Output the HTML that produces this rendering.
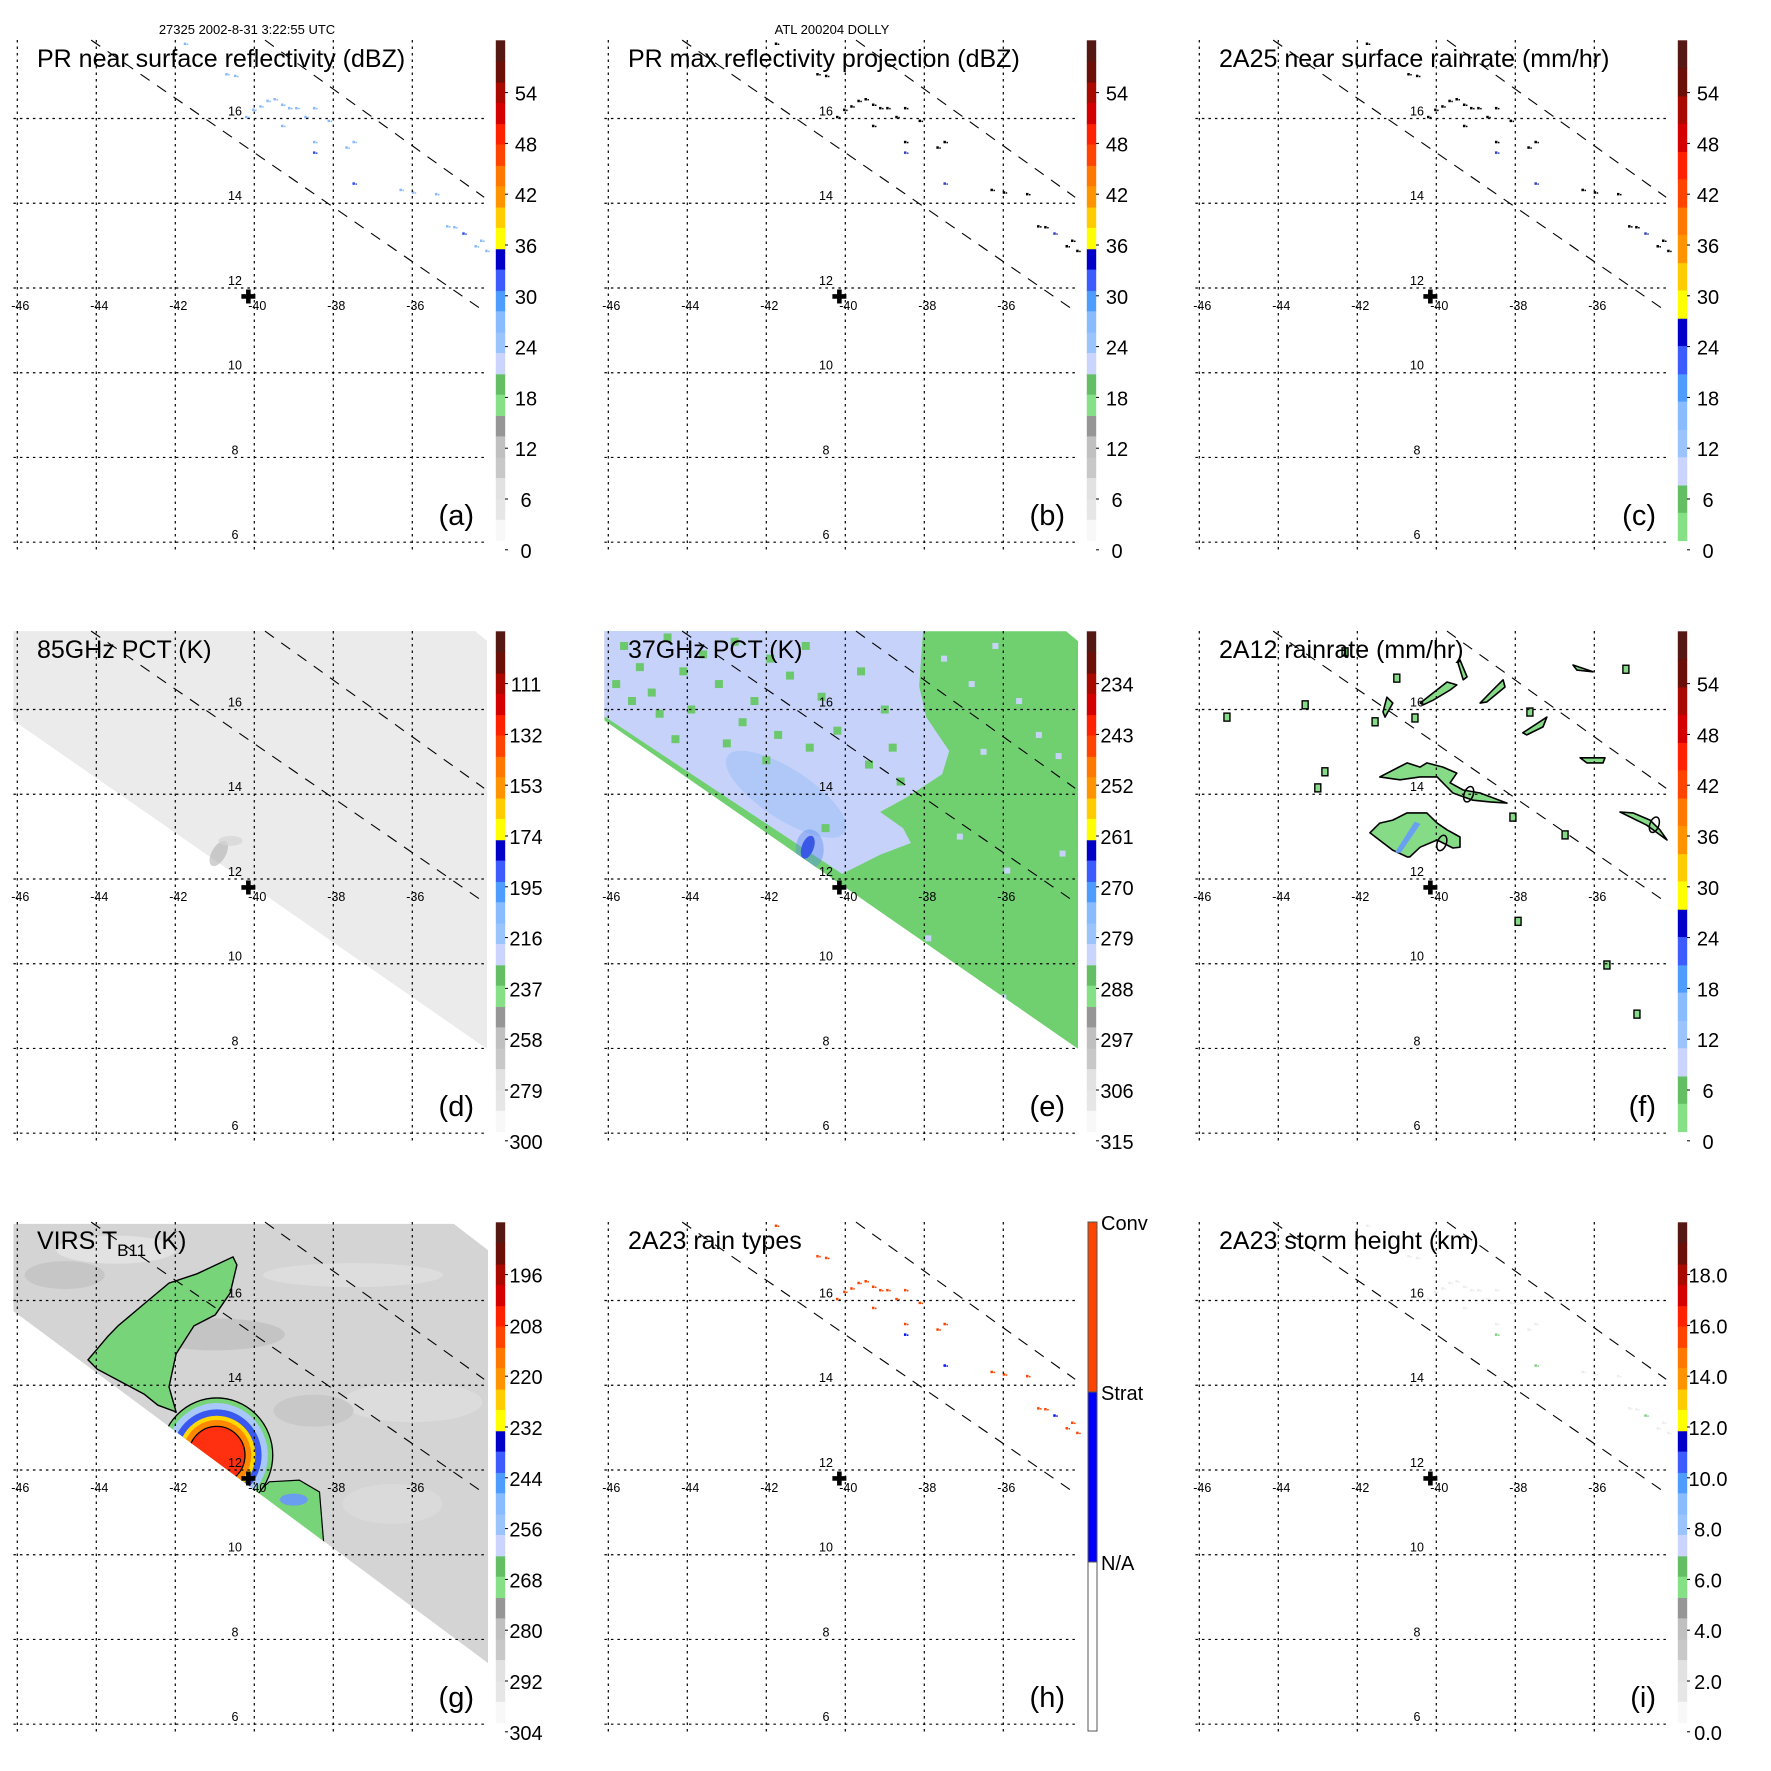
<!DOCTYPE html>
<html><head><meta charset="utf-8"><style>
html,body{margin:0;padding:0;background:#fff;}
svg{display:block;font-family:"Liberation Sans",Arial,sans-serif;}
</style></head><body>
<svg id="fig" width="1771" height="1771" viewBox="0 0 1771 1771" xmlns="http://www.w3.org/2000/svg">
<text x="247" y="34" font-size="13" text-anchor="middle">27325 2002-8-31 3:22:55 UTC</text>
<text x="832" y="34" font-size="13" text-anchor="middle">ATL 200204 DOLLY</text>
</svg>
<script>
// ---- data ----
const lonTicks = [-46,-44,-42,-40,-38,-36];
const latTicks = [16,14,12,10,8,6];
const panelTitles = ["PR near surface reflectivity (dBZ)","PR max reflectivity projection (dBZ)","2A25 near surface rainrate (mm/hr)","85GHz PCT (K)","37GHz PCT (K)","2A12 rainrate (mm/hr)","VIRS T","2A23 rain types","2A23 storm height (km)"];
const panelLetters = ["(a)","(b)","(c)","(d)","(e)","(f)","(g)","(h)","(i)"];
const cbLabelsA = ["54","48","42","36","30","24","18","12","6","0"];
const cbLabelsD = ["111","132","153","174","195","216","237","258","279","300"];
const cbLabelsE = ["234","243","252","261","270","279","288","297","306","315"];
const cbLabelsG = ["196","208","220","232","244","256","268","280","292","304"];
const cbLabelsI = ["18.0","16.0","14.0","12.0","10.0","8.0","6.0","4.0","2.0","0.0"];
const typeLabels = ["Conv","Strat","N/A"];
// PR rain pixels: lon, lat, type (1 conv, 2 strat)
const rainLon = [-40.21,-40.03,-39.85,-39.67,-39.49,-39.30,-39.12,-38.94,-38.71,-38.49,-38.12,-39.30,-38.49,-38.49,-37.67,-37.49,-37.49,-36.30,-35.99,-35.40,-35.12,-34.94,-34.71,-34.26,-34.40,-34.13,-40.49,-40.71,-41.76];
const rainLat = [16.04,16.21,16.29,16.42,16.46,16.33,16.25,16.25,16.04,16.25,15.95,15.83,15.45,15.20,15.32,15.45,14.47,14.32,14.26,14.22,13.46,13.44,13.29,13.12,12.99,12.88,17.01,17.05,17.77];
const rainType = [1,1,1,1,1,1,1,1,1,1,1,1,1,2,1,1,2,1,1,1,1,1,2,1,1,1,1,1,1];
// swath geometry
const swathDLon = [-46.10,-34.41,-34.11,-34.11,-46.10];
const swathDLat = [17.85,17.85,17.62,7.99,15.74];
const swathGLon = [-46.10,-34.95,-34.08,-34.08,-46.10];
const swathGLat = [17.81,17.81,17.19,7.44,15.75];
const swathLineLon = [[-44.13,-34.13],[-39.73,-34.18]];
const swathLineLat = [[17.85,11.42],[17.85,14.14]];
const centerLon = -40.15, centerLat = 11.8;
// 2A12 rain polygons (lon/lat)
const rainPolysLon = [
 [-41.68,-41.43,-41.10,-40.74,-40.24,-39.98,-39.73,-39.40,-39.40,-39.58,-39.98,-40.41,-40.67,-40.74,-41.10],
 [-41.43,-40.74,-40.41,-40.24,-39.83,-39.48,-39.65,-39.32,-38.89,-38.21,-38.64,-39.07,-39.58,-39.98,-40.41,-40.92],
 [-35.35,-35.02,-34.59,-34.34,-34.16,-34.67],
 [-40.41,-39.73,-39.48,-39.65,-40.08,-40.33],
 [-37.81,-37.20,-37.30,-37.71],
 [-38.89,-38.57,-38.31,-38.26,-38.72],
 [-39.40,-39.22,-39.32,-39.45],
 [-36.36,-35.73,-35.78,-36.19],
 [-36.54,-36.03,-36.44],
 [-41.25,-41.10,-41.30,-41.35]];
const rainPolysLat = [
 [13.09,13.32,13.39,13.56,13.56,13.32,13.16,12.99,12.75,12.73,12.92,12.75,12.52,12.52,12.68],
 [14.41,14.74,14.64,14.74,14.64,14.50,14.27,14.10,14.03,13.79,13.82,13.86,14.03,14.41,14.41,14.34],
 [13.58,13.56,13.39,13.16,12.92,13.27],
 [16.15,16.65,16.58,16.46,16.22,16.11],
 [15.45,15.82,15.59,15.40],
 [16.15,16.46,16.70,16.53,16.18],
 [17.17,16.77,16.70,17.10],
 [14.86,14.86,14.74,14.74],
 [17.05,16.89,16.93],
 [16.29,16.15,15.82,15.94]];
const smallRainLon = [-37.93,-35.68,-34.92,-38.06,-36.74,-45.30,-43.32,-42.82,-43.0,-41.0,-41.55,-40.54,-37.63,-42.31,-35.2];
const smallRainLat = [11.00,9.97,8.81,13.46,13.04,15.82,16.11,14.53,14.15,16.74,15.71,15.80,15.94,17.36,16.95];
// 37GHz green boundary (lon/lat)
const pct37Lon = [-38.03,-38.13,-37.95,-37.37,-37.55,-38.44,-39.12,-38.54,-38.34,-39.12,-40.08,-46.2,-46.2];
const pct37Lat = [17.87,16.55,15.82,15.02,14.47,13.93,13.58,13.20,12.85,12.57,12.12,15.9,17.87];
const specLon = [-45.6,-45.2,-44.9,-44.5,-44.1,-43.6,-43.2,-42.8,-42.3,-41.9,-41.4,-41.0,-40.6,-45.4,-44.7,-43.9,-42.6,-41.7,-40.9,-40.2,-39.6,-39.0,-38.8,-39.4,-38.6,-43.0,-44.3,-45.8,-42.0,-40.5];
const specLat = [17.5,17.0,16.4,17.7,16.9,17.3,16.6,17.6,16.2,17.2,16.8,17.5,16.3,16.2,15.9,16.0,15.7,15.4,15.1,15.5,16.9,16.0,15.1,14.7,14.3,15.2,15.3,16.6,14.8,13.2];
const lavLon = [-37.5,-36.8,-36.2,-35.6,-35.1,-34.6,-36.5,-37.1,-35.9,-34.5,-37.9,-36.0];
const lavLat = [17.2,16.6,17.5,16.2,15.4,14.9,15.0,13.0,12.2,12.6,10.6,9.2];
// VIRS cold cloud (lon/lat)
const virsGreenLon = [-44.21,-43.70,-43.45,-42.79,-42.16,-41.45,-40.54,-40.44,-40.61,-40.99,-41.53,-41.98,-42.16,-41.98,-42.44,-42.79,-43.98];
const virsGreenLat = [14.60,15.16,15.40,15.92,16.41,16.63,17.03,16.84,16.18,15.66,15.40,14.74,13.96,13.37,13.53,13.79,14.38];
const virsBandLon = [-40.13,-39.62,-38.86,-38.35,-38.22,-40.6];
const virsBandLat = [11.29,11.72,11.76,11.48,10.02,11.0];
const coreTemps = [270,262,250,238,228,216];
const coreRadii = [1.35,1.23,1.08,0.93,0.83,0.68];
const coreLon = -40.95, coreLat = 12.35;

// ---- palettes ----
const pal12 = [["#f8f8f8","#e6e6e6"],["#e2e2e2","#c8c8c8"],["#c0c0c0","#969696"],["#86e086","#64bf64"],["#cad4fc","#9cc4fc"],["#88bcff","#4e9cff"],["#3c5cff","#0000c8"],["#ffff00","#ffcc00"],["#ff9400","#ff7800"],["#ff4400","#ff2200"],["#d40000","#a80a00"],["#6a1008","#561812"]];
const pal9 = pal12.slice(3);
const NS="http://www.w3.org/2000/svg";
const svg=document.getElementById('fig');
const X=lon=>17.3+(lon+46)*39.5;
const Y=lat=>118.5+(16-lat)*42.37;
function el(tag,attrs,parent){const e=document.createElementNS(NS,tag);for(const k in attrs)e.setAttribute(k,attrs[k]);(parent||svg).appendChild(e);return e;}
function pts(lons,lats){return lons.map((l,i)=>X(l).toFixed(1)+","+Y(lats[i]).toFixed(1)).join(" ");}

function colorbar(g,pal,labels){
  const cb=el('g',{},g);
  
  
  const top=40.3,bot=540.6,h=(bot-top)/pal.length;
  pal.forEach((c,i)=>{
    const y0=bot-(i+1)*h;
    el('rect',{x:495.8,y:y0,width:9.4,height:h/2+0.5,fill:c[1]},cb);
    el('rect',{x:495.8,y:y0+h/2,width:9.4,height:h/2+0.5,fill:c[0]},cb);
  });
  labels.forEach((t,i)=>{
    const y=93.6+i*50.8;
    el('line',{x1:505,x2:508,y1:y-1,y2:y-1,stroke:'#000','stroke-width':1},cb);
    const tx=el('text',{x:526,y:y+7,'font-size':20,'text-anchor':'middle'},cb);
    tx.textContent=t;
    
    
  });
}

function grid(g){
  const gg=el('g',{stroke:'#000','stroke-width':1.2,'stroke-dasharray':'2.5,4'},g);
  
  
  lonTicks.forEach(l=>el('line',{x1:X(l),x2:X(l),y1:40,y2:551},gg));
  latTicks.forEach(l=>el('line',{x1:13.4,x2:487,y1:Y(l),y2:Y(l)},gg));
  lonTicks.forEach(l=>{const t=el('text',{x:X(l)+3,y:Y(12)+22,'font-size':12.5,'text-anchor':'middle'},g);t.textContent=String(l);
    });
  latTicks.forEach(l=>{const t=el('text',{x:235,y:Y(l)-3,'font-size':12.5,'text-anchor':'middle'},g);t.textContent=String(l);
    });
  const sl=el('g',{stroke:'#000','stroke-width':1.1,'stroke-dasharray':'11,9'},g);
  
  
  swathLineLon.forEach((ln,i)=>el('line',{x1:X(ln[0]),y1:Y(swathLineLat[i][0]),x2:X(ln[1]),y2:Y(swathLineLat[i][1])},sl));
  const cx=X(centerLon),cy=Y(centerLat);
  const c=el('path',{d:`M${cx-7},${cy-2.3}h14v4.6h-14z M${cx-2.3},${cy-7}h4.6v14h-4.6z`,fill:'#000'},g);
  
  
}

function titles(g,i){
  const t=el('text',{x:37,y:67,'font-size':25},g);
  
  
  if(i===6){t.textContent="VIRS T";const s=el('tspan',{'font-size':17,dy:7},t);s.textContent="B11";const s2=el('tspan',{dy:-7},t);s2.textContent=" (K)";}
  else t.textContent=panelTitles[i];
  const l=el('text',{x:474,y:525,'font-size':29,'text-anchor':'end'},g);
  l.textContent=panelLetters[i];
  
  
}

function rainSpecks(g,colorFn){
  rainLon.forEach((l,i)=>{
    const x=X(l),y=Y(rainLat[i]);
    const r=el('rect',{x:x-1,y:y-1,width:2.5,height:2.5,fill:colorFn(i)},g);
    
    
    el('rect',{x:x+2,y:y,width:1.5,height:1.5,fill:colorFn(i)},g);
  });
}

for(let p=0;p<9;p++){
  const col=p%3,row=Math.floor(p/3);
  const g=el('g',{transform:`translate(${col*591},${row*591})`});
  
  
  const data=el('g',{},g);
  
  
  if(p===0) rainSpecks(data,i=>rainType[i]===2?'#2d50f0':'#86b8ff');
  if(p===1||p===2) rainSpecks(data,i=>rainType[i]===2?'#3040c0':'#000');
  if(p===8) rainSpecks(data,i=>rainType[i]===2?'#80d080':'#ececec');
  if(p===7) rainSpecks(data,i=>rainType[i]===2?'#0010ff':'#ff4400');
  if(p===3){
    const s=el('polygon',{points:pts(swathDLon,swathDLat),fill:'#ebebeb'},data);
    
    
    el('ellipse',{cx:X(-40.9),cy:Y(12.6),rx:7,ry:14,fill:'#b0b0b0',opacity:0.6,transform:`rotate(30 ${X(-40.9)} ${Y(12.6)})`},data);
    el('ellipse',{cx:X(-40.6),cy:Y(12.9),rx:12,ry:5,fill:'#d4d4d4',opacity:0.7},data);
  }
  if(p===4){
    const d=el('defs',{},g);const cp=el('clipPath',{id:'ce'},d);
    el('polygon',{points:pts(swathDLon,swathDLat)},cp);
    const cg=el('g',{'clip-path':'url(#ce)'},data);
    const s=el('polygon',{points:pts(swathDLon,swathDLat),fill:'#70d070'},cg);
    
    
    const b=el('polygon',{points:pts(pct37Lon,pct37Lat),fill:'#c6d2fa'},cg);
    
    
    el('ellipse',{cx:X(-41.5),cy:Y(14.0),rx:70,ry:25,fill:'#a9c6f6',opacity:0.8,transform:`rotate(33 ${X(-41.5)} ${Y(14.0)})`},cg);
    el('ellipse',{cx:X(-40.9),cy:Y(12.7),rx:14,ry:20,fill:'#5a86f0',opacity:0.4},cg);
    el('ellipse',{cx:X(-40.95),cy:Y(12.75),rx:6,ry:12,fill:'#3a58e6',transform:`rotate(20 ${X(-40.95)} ${Y(12.75)})`},cg);
    specLon.forEach((l,i)=>{const r=el('rect',{x:X(l)-4,y:Y(specLat[i])-4,width:8,height:8,fill:'#6cc86c'},cg);
      });
    lavLon.forEach((l,i)=>{const r=el('rect',{x:X(l)-3,y:Y(lavLat[i])-3,width:6,height:6,fill:'#c6d2fa'},cg);
      });
  }
  if(p===5){
    rainPolysLon.forEach((lons,i)=>{
      const poly=el('polygon',{points:pts(lons,rainPolysLat[i]),fill:'#86dc86',stroke:'#000','stroke-width':1.6,'stroke-linejoin':'round'},data);
      
      
    });
    el('polygon',{points:`${X(-41.05)},${Y(12.62)} ${X(-40.55)},${Y(13.35)} ${X(-40.4)},${Y(13.3)} ${X(-40.9)},${Y(12.62)}`,fill:'#6aa0f0'},data);
    smallRainLon.forEach((l,i)=>{const x=X(l),y=Y(smallRainLat[i]);
      const r=el('rect',{x:x-3,y:y-4,width:6,height:8,fill:'#86dc86',stroke:'#000','stroke-width':1.4},data);
      });
    [[-39.18,14.0],[-39.86,12.85],[-34.48,13.28]].forEach(c=>{const e=el('ellipse',{cx:X(c[0]),cy:Y(c[1]),rx:4.5,ry:8,fill:'none',stroke:'#000','stroke-width':1.5,transform:`rotate(20 ${X(c[0])} ${Y(c[1])})`},data);
      });
  }
  if(p===6){
    const d=el('defs',{},g);const cp=el('clipPath',{id:'cg'},d);
    el('polygon',{points:pts(swathGLon,swathGLat)},cp);
    const cg=el('g',{'clip-path':'url(#cg)'},data);
    const s=el('polygon',{points:pts(swathGLon,swathGLat),fill:'#d4d4d4'},cg);
    
    
    [[-43.5,17.2,60,14,'#e2e2e2'],[-37.5,16.6,90,12,'#dddddd'],[-36,13.6,70,20,'#dcdcdc'],[-41,15.2,70,16,'#c4c4c4'],[-38.5,13.4,40,16,'#c8c8c8'],[-36.5,11.2,50,20,'#dadada'],[-44.8,16.6,40,14,'#c6c6c6']].forEach(c=>
      el('ellipse',{cx:X(c[0]),cy:Y(c[1]),rx:c[2],ry:c[3],fill:c[4]},cg));
    const gr=el('polygon',{points:pts(virsGreenLon,virsGreenLat),fill:'#78d478',stroke:'#000','stroke-width':1.4},cg);
    
    
    el('polygon',{points:pts(virsBandLon,virsBandLat),fill:'#78d478',stroke:'#000','stroke-width':1.2},cg);
    el('ellipse',{cx:X(-39.0),cy:Y(11.3),rx:14,ry:6,fill:'#6a9cf0'},cg);
    const ringCols=['#78d478','#a8c8fa','#3858f0','#ffd800','#ff8800','#ff3010'];
    coreTemps.forEach((t,i)=>{
      const r=coreRadii[i];
      const e=el('ellipse',{cx:X(coreLon),cy:Y(coreLat),rx:r*39.5*1.05,ry:r*42.37,fill:ringCols[i],stroke:i===0||i===5?'#000':'none','stroke-width':1.3},cg);
      
      
    });
  }
  grid(g);
  titles(g,p);
  if(p===0||p===1) colorbar(g,pal12,cbLabelsA);
  if(p===2||p===5) colorbar(g,pal9,cbLabelsA);
  if(p===3) colorbar(g,pal12,cbLabelsD);
  if(p===4) colorbar(g,pal12,cbLabelsE);
  if(p===6) colorbar(g,pal12,cbLabelsG);
  if(p===8) colorbar(g,pal12,cbLabelsI);
  if(p===7){
    const cb=el('g',{},g);
    
    
    el('rect',{x:497,y:40,width:9,height:170,fill:'#ff4400',stroke:'#555','stroke-width':1},cb);
    el('rect',{x:497,y:210,width:9,height:170,fill:'#0000ff',stroke:'#555','stroke-width':1},cb);
    el('rect',{x:497,y:380,width:9,height:169,fill:'#fff',stroke:'#555','stroke-width':1},cb);
    [40,210,380].forEach((y,i)=>{const t=el('text',{x:510,y:y+8,'font-size':20},cb);t.textContent=typeLabels[i];
      });
  }
}
</script>
</body></html>
